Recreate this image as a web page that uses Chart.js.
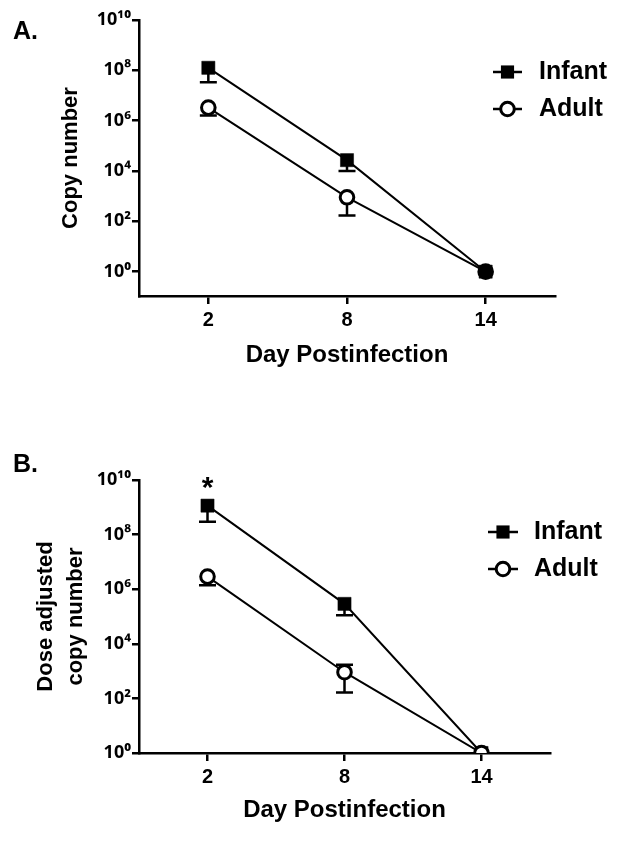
<!DOCTYPE html>
<html><head><meta charset="utf-8">
<script src="https://cdn.jsdelivr.net/npm/chart.js@4.4.0/dist/chart.umd.min.js"></script>
<style>
html,body{margin:0;padding:0;background:#fff;}
body{width:621px;height:843px;position:relative;overflow:hidden;}
canvas{position:absolute;left:0;}
</style></head><body>
<canvas id="cA" width="621" height="420" style="top:0px"></canvas>
<canvas id="cB" width="621" height="423" style="top:420px"></canvas>
<script>
// ---- data ----
const days = [2, 8, 14];
const seriesNames = ['Infant', 'Adult'];
const xTickValues = [2, 8, 14];
const yTickValues = [1, 1e2, 1e4, 1e6, 1e8, 1e10];
const yTickLabels = ['10\u2070', '10\u00B2', '10\u2074', '10\u2076', '10\u2078', '10\u00B9\u2070'];

// Panel A: copy number (mean, lower / upper error bound; upper = mean where hidden by marker)
const infantA     = [1.26e8, 2.7e4, 1];
const infantALow  = [3.4e7,  1.0e4, 1];
const infantAHigh = [1.26e8, 2.7e4, 1];
const adultA      = [3.3e6,  9.0e2, 1];
const adultALow   = [1.6e6,  1.7e2, 1];
const adultAHigh  = [3.3e6,  9.0e2, 1];

// Panel B: dose adjusted copy number
const infantB     = [1.15e9, 2.9e5, 1];
const infantBLow  = [2.95e8, 1.1e5, 1];
const infantBHigh = [1.15e9, 2.9e5, 1];
const adultB      = [2.9e6,  9.1e2, 1];
const adultBLow   = [1.4e6,  1.65e2, 1];
const adultBHigh  = [2.9e6,  1.7e3, 1];

const FONT = '"Liberation Sans", Arial, sans-serif';

// ---- plugins ----
const errorBars = {
  id: 'errorBars',
  beforeDatasetsDraw(chart) {
    const ctx = chart.ctx, xs = chart.scales.x, ys = chart.scales.y;
    ctx.save();
    ctx.strokeStyle = '#000';
    ctx.lineWidth = 2.5;
    chart.data.datasets.forEach(ds => {
      ds.data.forEach((p, i) => {
        const x = xs.getPixelForValue(p.x);
        const yc = ys.getPixelForValue(p.y);
        const lo = ys.getPixelForValue(ds.errLow[i]);
        const hi = ys.getPixelForValue(ds.errHigh[i]);
        ctx.beginPath();
        [lo, hi].forEach(e => {
          if (Math.abs(e - yc) < 1) return;
          ctx.moveTo(x, yc); ctx.lineTo(x, e);
          ctx.moveTo(x - 8.5, e); ctx.lineTo(x + 8.5, e);
        });
        ctx.stroke();
      });
    });
    ctx.restore();
  }
};

const extras = {
  id: 'extras',
  afterDraw(chart, args, o) {
    const ctx = chart.ctx;
    ctx.save();
    // panel label
    ctx.fillStyle = '#000';
    ctx.font = 'bold 25px ' + FONT;
    ctx.textBaseline = 'alphabetic';
    ctx.textAlign = 'left';
    ctx.fillText(o.panel, o.panelX, o.panelY);
    // legend
    chart.data.datasets.forEach((ds, k) => {
      const y = o.legendY[k];
      ctx.strokeStyle = '#000';
      ctx.lineWidth = 2.5;
      ctx.beginPath();
      ctx.moveTo(o.legendX0, y); ctx.lineTo(o.legendX1, y);
      ctx.stroke();
      const cx = (o.legendX0 + o.legendX1) / 2;
      if (ds.pointStyle === 'rect') {
        const s = Math.SQRT1_2 * ds.pointRadius;
        ctx.fillStyle = '#000';
        ctx.fillRect(cx - s, y - s, 2 * s, 2 * s);
      } else {
        ctx.beginPath();
        ctx.arc(cx, y, ds.pointRadius, 0, Math.PI * 2);
        ctx.fillStyle = '#fff';
        ctx.fill();
        ctx.lineWidth = 3;
        ctx.stroke();
      }
      ctx.fillStyle = '#000';
      ctx.font = 'bold 25px ' + FONT;
      ctx.textBaseline = 'middle';
      ctx.textAlign = 'left';
      ctx.fillText(ds.label, o.legendTextX, y);
    });
    // significance mark
    if (o.star) {
      const xs = chart.scales.x, ys = chart.scales.y;
      const ds = chart.data.datasets[o.star.dataset];
      const i = o.star.index;
      const x = xs.getPixelForValue(ds.data[i].x);
      const y = ys.getPixelForValue(ds.data[i].y) - 9;
      ctx.font = 'bold 30px ' + FONT;
      ctx.textAlign = 'center';
      ctx.textBaseline = 'alphabetic';
      ctx.fillText(o.star.text, x, y);
    }
    ctx.restore();
  }
};

function pts(vals) { return days.map((d, i) => ({x: d, y: vals[i]})); }

function makeChart(id, p) {
  const datasets = [
    {
      label: seriesNames[0],
      data: pts(p.infant), errLow: p.infantLow, errHigh: p.infantHigh,
      borderColor: '#000', borderWidth: 2,
      pointStyle: 'rect', pointRadius: 9.3, pointBackgroundColor: '#000',
      pointBorderColor: '#000', pointBorderWidth: 0.5, order: 1, tension: 0
    },
    {
      label: seriesNames[1],
      data: pts(p.adult), errLow: p.adultLow, errHigh: p.adultHigh,
      borderColor: '#000', borderWidth: 2,
      pointStyle: 'circle', pointRadius: 6.8, pointBackgroundColor: p.adultFill,
      pointBorderColor: '#000', pointBorderWidth: 3, order: 0, tension: 0
    }
  ];
  return new Chart(document.getElementById(id), {
    type: 'line',
    data: {datasets},
    plugins: [errorBars, extras],
    options: {
      responsive: false,
      animation: false,
      events: [],
      layout: {padding: p.pad},
      plugins: {
        legend: {display: false},
        tooltip: {enabled: false},
        extras: p.extras
      },
      scales: {
        x: {
          type: 'linear', min: -1, max: 17,
          afterBuildTicks: s => { s.ticks = xTickValues.map(v => ({value: v})); },
          afterFit: s => { s.height = p.xHeight; },
          grid: {drawOnChartArea: false, drawTicks: true, tickLength: 8, color: '#000', lineWidth: 2.5},
          border: {display: true, color: '#000', width: 2.5},
          ticks: {color: '#000', padding: 4, font: {family: FONT, size: 20, weight: 'bold'},
                  callback: v => String(v)},
          title: {display: true, text: 'Day Postinfection', color: '#000',
                  font: {family: FONT, size: 24, weight: 'bold'},
                  padding: {top: 0, bottom: p.xTitlePad}}
        },
        y: {
          type: 'logarithmic', min: p.yMin, max: 1e10,
          afterBuildTicks: s => { s.ticks = yTickValues.map(v => ({value: v})); },
          afterFit: s => { s.width = 139; },
          grid: {drawOnChartArea: false, drawTicks: true, tickLength: 7, color: '#000', lineWidth: 2.5},
          border: {display: true, color: '#000', width: 2.5},
          ticks: {color: '#000', padding: 1, font: {family: '"Noto Sans", "DejaVu Sans", sans-serif', size: 18, weight: 'bold'},
                  callback: v => yTickLabels[yTickValues.indexOf(v)]},
          title: {display: true, text: p.yTitle, color: '#000',
                  font: {family: FONT, size: 22, weight: 'bold', lineHeight: p.yTitleLH},
                  padding: {top: p.yTitlePad, bottom: 0}}
        }
      }
    }
  });
}

makeChart('cA', {
  infant: infantA, infantLow: infantALow, infantHigh: infantAHigh,
  adult: adultA, adultLow: adultALow, adultHigh: adultAHigh,
  adultFill: ['#fff', '#fff', '#000'],
  yMin: 0.108,
  pad: {left: 0, top: 20, right: 66, bottom: 0},
  xHeight: 124, xTitlePad: 50,
  yTitle: 'Copy number', yTitleLH: 1.2, yTitlePad: 58,
  extras: {panel: 'A.', panelX: 13, panelY: 39,
           legendX0: 493, legendX1: 522, legendTextX: 539, legendY: [72, 109]}
});

makeChart('cB', {
  infant: infantB, infantLow: infantBLow, infantHigh: infantBHigh,
  adult: adultB, adultLow: adultBLow, adultHigh: adultBHigh,
  adultFill: ['#fff', '#fff', '#fff'],
  yMin: 1,
  pad: {left: 0, top: 60, right: 71, bottom: 0},
  xHeight: 90, xTitlePad: 18,
  yTitle: ['Dose adjusted', 'copy number'], yTitleLH: '30px', yTitlePad: 31,
  extras: {panel: 'B.', panelX: 13, panelY: 52,
           legendX0: 488, legendX1: 518, legendTextX: 534, legendY: [112, 149],
           star: {text: '*', dataset: 0, index: 0}}
});
</script>
</body></html>
